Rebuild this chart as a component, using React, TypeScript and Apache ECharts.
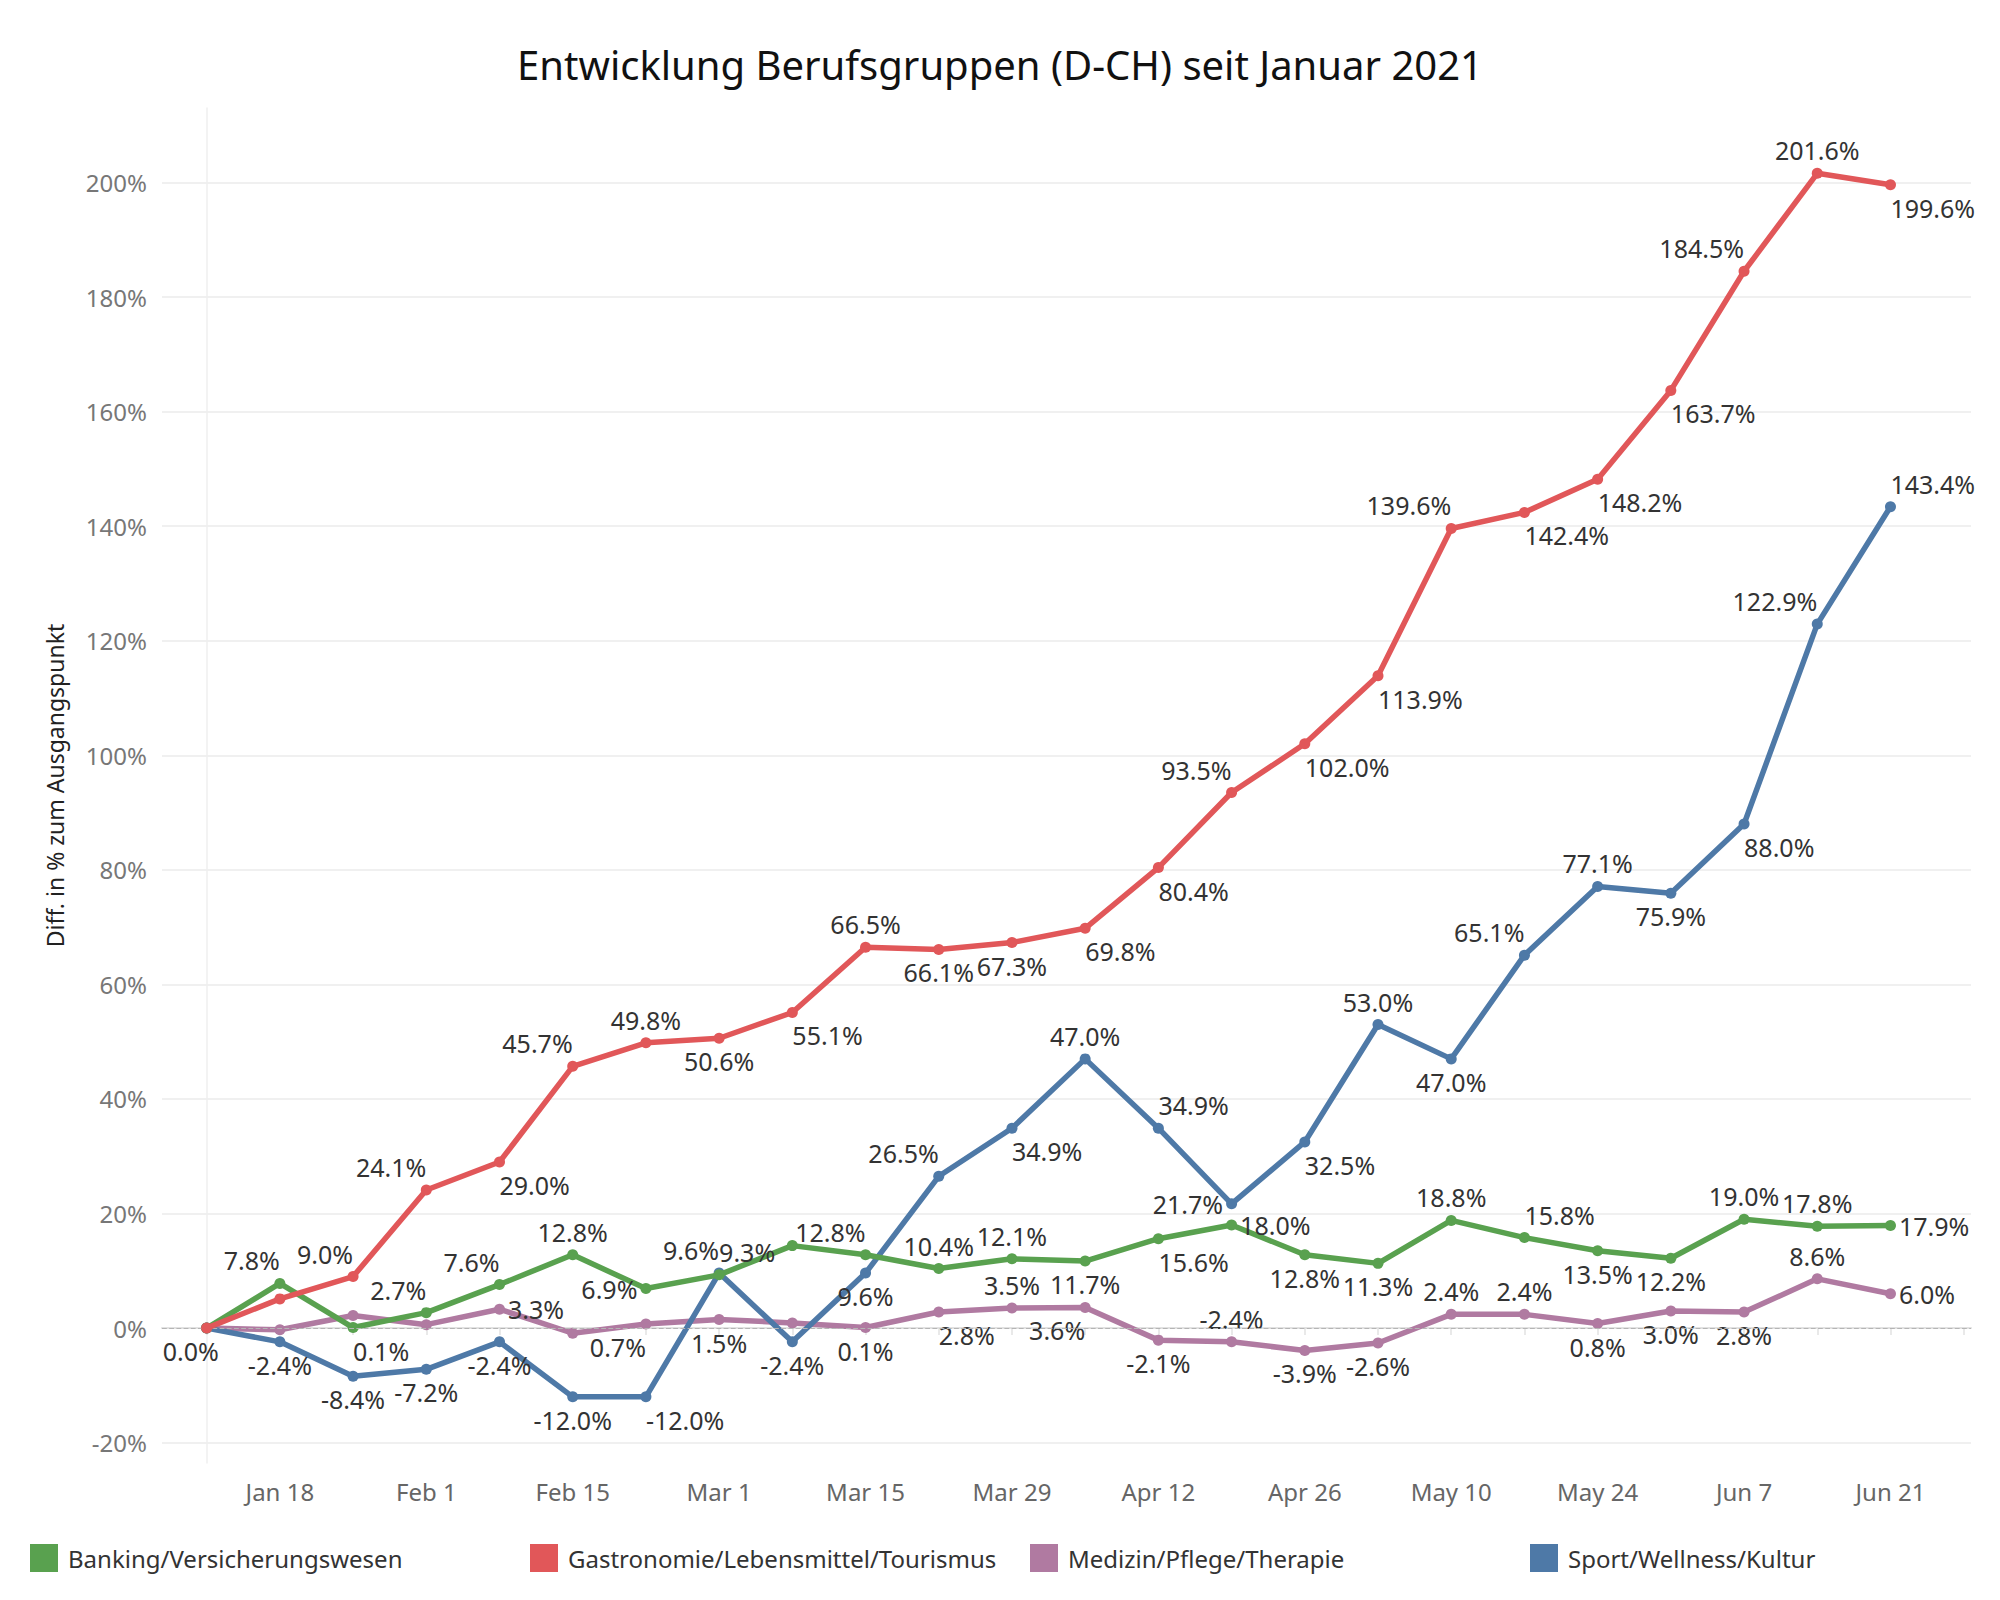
import React, { useEffect, useRef } from "react";
import * as echarts from "echarts";

// ---- data ----
const weeks = [
  "Jan 11", "Jan 18", "Jan 25", "Feb 1", "Feb 8", "Feb 15", "Feb 22", "Mar 1",
  "Mar 8", "Mar 15", "Mar 22", "Mar 29", "Apr 5", "Apr 12", "Apr 19", "Apr 26",
  "May 3", "May 10", "May 17", "May 24", "May 31", "Jun 7", "Jun 14", "Jun 21",
];

const banking = [0, 7.8, 0.1, 2.7, 7.6, 12.8, 6.9, 9.3, 14.4, 12.8, 10.4, 12.1, 11.7, 15.6, 18.0, 12.8, 11.3, 18.8, 15.8, 13.5, 12.2, 19.0, 17.8, 17.9];
const gastronomie = [0, 5.1, 9.0, 24.1, 29.0, 45.7, 49.8, 50.6, 55.1, 66.5, 66.1, 67.3, 69.8, 80.4, 93.5, 102.0, 113.9, 139.6, 142.4, 148.2, 163.7, 184.5, 201.6, 199.6];
const medizin = [0, -0.3, 2.2, 0.6, 3.3, -0.9, 0.7, 1.5, 0.9, 0.1, 2.8, 3.5, 3.6, -2.1, -2.4, -3.9, -2.6, 2.4, 2.4, 0.8, 3.0, 2.8, 8.6, 6.0];
const sport = [0, -2.4, -8.4, -7.2, -2.4, -12.0, -12.0, 9.6, -2.4, 9.6, 26.5, 34.9, 47.0, 34.9, 21.7, 32.5, 53.0, 47.0, 65.1, 77.1, 75.9, 88.0, 122.9, 143.4];

const seriesNames = [
  "Banking/Versicherungswesen",
  "Gastronomie/Lebensmittel/Tourismus",
  "Medizin/Pflege/Therapie",
  "Sport/Wellness/Kultur",
];

// label placement per point
const bankingPos = ["-", "TL", "BR", "TL", "TL", "T", "L", "TR", "-", "TL", "T", "T", "B", "BR", "R", "B", "B", "T", "TR", "B", "B", "T", "T", "R"];
const gastroPos = ["Z", "-", "TL", "TL", "BR", "TL", "T", "B", "BR", "T", "B", "B", "BR", "BR", "TL", "BR", "BR", "TL", "BR", "BR", "BR", "TL", "T", "BR"];
const medizinPos = ["-", "-", "-", "-", "R", "-", "BL", "B", "-", "B", "BR", "T", "BL", "B", "T", "B", "B", "T", "T", "B", "B", "B", "T", "R"];
const sportPos = ["-", "B", "B", "B", "B", "B", "BR", "TL", "B", "B", "TL", "BR", "T", "TR", "L", "BR", "T", "B", "TL", "T", "B", "BR", "TL", "TR"];

const COLORS = {
  green: "#59a14f",
  red: "#e15759",
  purple: "#b07aa1",
  blue: "#4e79a7",
};

const FONT = "'Noto Sans', 'Open Sans', sans-serif";

function labelFor(code: string): any {
  const d = 5;
  switch (code) {
    case "T": return { position: "top", distance: d };
    case "B": return { position: "bottom", distance: d };
    case "TL": return { position: "top", distance: d, align: "right" };
    case "TR": return { position: "top", distance: d, align: "left" };
    case "BL": return { position: "bottom", distance: d, align: "right" };
    case "BR": return { position: "bottom", distance: d, align: "left" };
    case "L": return { position: "left", distance: 3 };
    case "R": return { position: "right", distance: 3 };
    case "Z": return { position: "bottom", distance: d, offset: [-16, 0] };
    default: return { show: false };
  }
}

function buildSeries(name: string, values: number[], pos: string[], color: string, z: number, extra: any = {}) {
  return {
    name,
    type: "line",
    z,
    data: values.map((v, i) => ({ value: [i, v], label: labelFor(pos[i]) })),
    symbol: "circle",
    symbolSize: 11,
    lineStyle: { width: 5.5, color },
    itemStyle: { color },
    clip: false,
    emphasis: { disabled: true },
    label: {
      show: true,
      formatter: (p: any) => p.value[1].toFixed(1) + "%",
      fontSize: 25,
      color: "#333",
      fontFamily: FONT,
    },
    ...extra,
  };
}

const gridColor = "#ebebeb";
const clear = "rgba(0,0,0,0)";

export default function App() {
  const ref = useRef<HTMLDivElement>(null);
  useEffect(() => {
    if (!ref.current) return;
    const chart = echarts.init(ref.current, null, { renderer: "svg" });
    const legendLefts = [30, 530, 1030, 1530];
    const option: any = {
      animation: false,
      backgroundColor: "#ffffff",
      textStyle: { fontFamily: FONT },
      title: {
        text: "Entwicklung Berufsgruppen (D-CH) seit Januar 2021",
        left: "center",
        top: 39,
        textStyle: { fontSize: 40, fontWeight: "normal", color: "#111", fontFamily: FONT },
      },
      legend: seriesNames.map((n, i) => ({
        data: [n],
        left: legendLefts[i],
        top: 1544,
        padding: 0,
        icon: "rect",
        itemWidth: 28,
        itemHeight: 28,
        selectedMode: false,
        textStyle: { fontSize: 24, color: "#333", fontFamily: FONT, padding: [0, 0, 0, 5] },
      })),
      grid: { left: 162, right: 29, top: 108, bottom: 137 },
      xAxis: {
        type: "value",
        min: -0.61,
        max: 24.1,
        splitNumber: 25,
        splitLine: { show: false },
        axisLine: { show: true, lineStyle: { color: "#e2e2e2", width: 2 } },
        axisTick: { show: true, length: 7, lineStyle: { color: "#e2e2e2", width: 1.5 } },
        axisLabel: {
          showMinLabel: false,
          showMaxLabel: false,
          margin: 16,
          fontSize: 24,
          color: "#666",
          fontFamily: FONT,
          formatter: (v: number) => {
            const i = Math.round(v);
            if (Math.abs(v - i) > 1e-6) return "";
            return i % 2 === 1 && i < weeks.length ? weeks[i] : "";
          },
        },
      },
      yAxis: {
        type: "value",
        min: -23.55,
        max: 213,
        splitNumber: 12,
        name: "Diff. in % zum Ausgangspunkt",
        nameLocation: "middle",
        nameRotate: 90,
        nameGap: 96,
        nameTextStyle: { fontSize: 23, color: "#222", fontFamily: FONT },
        axisLine: { show: true, lineStyle: { color: "#efefef", width: 1.5 } },
        axisTick: { show: false },
        axisLabel: {
          showMinLabel: false,
          showMaxLabel: false,
          margin: 15,
          fontSize: 24,
          color: "#777",
          fontFamily: FONT,
          formatter: (v: number) => (Math.abs(v - Math.round(v)) < 1e-6 ? Math.round(v) + "%" : ""),
        },
        splitLine: {
          show: true,
          lineStyle: {
            width: 1.5,
            color: [clear, gridColor, clear, gridColor, gridColor, gridColor, gridColor, gridColor, gridColor, gridColor, gridColor, gridColor, gridColor, clear],
          },
        },
      },
      series: [
        buildSeries(seriesNames[2], medizin, medizinPos, COLORS.purple, 2, {
          markLine: {
            silent: true,
            symbol: "none",
            label: { show: false },
            lineStyle: { type: "dashed", color: "#b5b5b5", width: 1.2 },
            data: [{ yAxis: 0 }],
          },
        }),
        buildSeries(seriesNames[3], sport, sportPos, COLORS.blue, 3),
        buildSeries(seriesNames[0], banking, bankingPos, COLORS.green, 4),
        buildSeries(seriesNames[1], gastronomie, gastroPos, COLORS.red, 5),
      ],
    };
    chart.setOption(option);
    return () => chart.dispose();
  }, []);
  return (
    <div
      ref={ref}
      style={{ position: "absolute", left: 0, top: 0, width: 2000, height: 1600, background: "#fff" }}
    />
  );
}
